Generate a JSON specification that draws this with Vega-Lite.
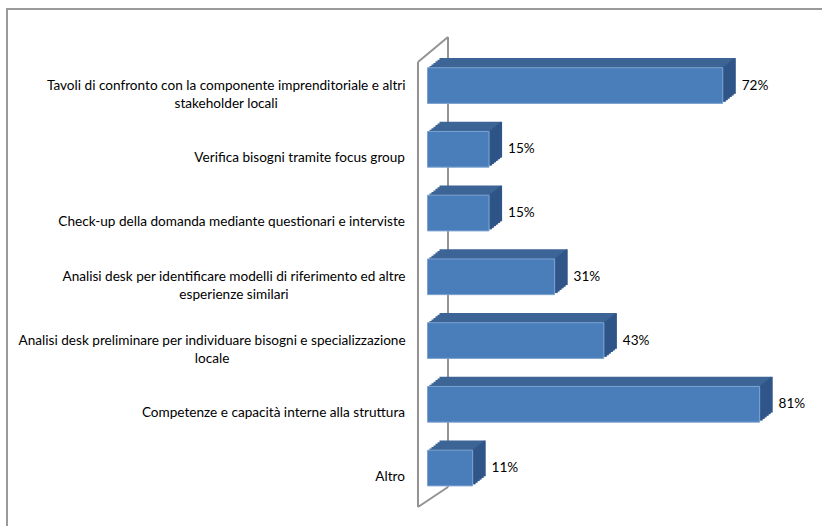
{
  "$schema": "https://vega.github.io/schema/vega-lite/v6.json",
  "width": 830,
  "height": 530,
  "autosize": "none",
  "padding": {"left": 7, "top": 9, "right": 0, "bottom": 0},
  "background": "white",
  "config": {
    "view": {"stroke": "#9a9a9a", "strokeWidth": 2},
    "font": "Lato"
  },
  "data": {
    "values": [
      {"label": "Tavoli di confronto con la componente imprenditoriale e altri\nstakeholder locali", "v": 0.72},
      {"label": "Verifica bisogni tramite focus group", "v": 0.15},
      {"label": "Check-up della domanda mediante questionari e interviste", "v": 0.15},
      {"label": "Analisi desk per identificare modelli di riferimento ed altre\nesperienze similari", "v": 0.31},
      {"label": "Analisi desk preliminare per individuare bisogni e specializzazione\nlocale", "v": 0.43},
      {"label": "Competenze e capacità interne alla struttura", "v": 0.81},
      {"label": "Altro", "v": 0.11}
    ]
  },
  "encoding": {
    "y": {
      "field": "label",
      "type": "nominal",
      "title": null,
      "scale": {
        "domain": [
          "Tavoli di confronto con la componente imprenditoriale e altri\nstakeholder locali",
          "Verifica bisogni tramite focus group",
          "Check-up della domanda mediante questionari e interviste",
          "Analisi desk per identificare modelli di riferimento ed altre\nesperienze similari",
          "Analisi desk preliminare per individuare bisogni e specializzazione\nlocale",
          "Competenze e capacità interne alla struttura",
          "Altro"
        ],
        "paddingInner": 0.44,
        "paddingOuter": 0.877,
        "align": 0.525
      },
      "axis": {
        "offset": -397.5,
        "domain": false,
        "ticks": false,
        "grid": false,
        "labelPadding": {"condition": [
          {"test": "indexof(datum.value, 'Tavoli') == 0", "value": 178.8},
          {"test": "indexof(datum.value, 'Analisi desk per') == 0", "value": 171},
          {"test": "indexof(datum.value, 'Analisi desk prel') == 0", "value": 192.9}
        ], "value": 0},
        "labelOffset": {"condition": {"test": "indexof(datum.value, '\\n') >= 0", "value": 0}, "value": 9},
        "labelAlign": {"condition": {"test": "indexof(datum.value, '\\n') >= 0", "value": "center"}, "value": "right"},
        "labelLimit": 0,
        "labelFont": "Lato",
        "labelFontSize": 13.6,
        "labelColor": "#000000",
        "labelLineHeight": 18,
        "labelBaseline": "middle",
        "labelExpr": "split(datum.value, '\\n')"
      }
    },
    "x": {
      "field": "v",
      "type": "quantitative",
      "scale": {"domain": [-1.0256, 0.9988], "nice": false, "zero": false},
      "axis": null
    }
  },
  "layer": [
    {"transform": [{"filter": "datum.v == 0.72"}],
     "mark": {"type": "rule", "color": "#939393", "strokeWidth": 2, "yOffset": -48.5, "y2Offset": 19},
     "encoding": {"x": {"datum": 0.05, "axis": null}, "y2": {"datum": "Altro"}}},
    {"transform": [{"filter": "datum.v == 0.72"}],
     "mark": {"type": "rule", "color": "#939393", "strokeWidth": 2, "yOffset": -23.5, "y2Offset": 39},
     "encoding": {"x": {"datum": -0.0232, "axis": null}, "y2": {"datum": "Altro"}}},
    {"transform": [{"filter": "datum.v == 0.72"}],
     "mark": {"type": "rule", "color": "#939393", "strokeWidth": 2, "yOffset": -23.5, "y2Offset": -48.5},
     "encoding": {"x": {"datum": -0.0232, "axis": null}, "x2": {"datum": 0.05}, "y2": {"field": "label"}}},
    {"transform": [{"filter": "datum.v == 0.11"}],
     "mark": {"type": "rule", "color": "#939393", "strokeWidth": 2, "yOffset": 39, "y2Offset": 19},
     "encoding": {"x": {"datum": -0.0232, "axis": null}, "x2": {"datum": 0.05}, "y2": {"field": "label"}}},
    {"mark": {"type": "bar", "color": "#3c6596", "xOffset": 12, "x2Offset": 12, "yOffset": -9.6, "y2Offset": -9.6}},
    {"mark": {"type": "bar", "color": "#3c6596", "xOffset": 10, "x2Offset": 10, "yOffset": -8, "y2Offset": -8}},
    {"mark": {"type": "bar", "color": "#3c6596", "xOffset": 8, "x2Offset": 8, "yOffset": -6.4, "y2Offset": -6.4}},
    {"mark": {"type": "bar", "color": "#3c6596", "xOffset": 6, "x2Offset": 6, "yOffset": -4.8, "y2Offset": -4.8}},
    {"mark": {"type": "bar", "color": "#3c6596", "xOffset": 4, "x2Offset": 4, "yOffset": -3.2, "y2Offset": -3.2}},
    {"mark": {"type": "bar", "color": "#3c6596", "xOffset": 2, "x2Offset": 2, "yOffset": -1.6, "y2Offset": -1.6}},
    {"mark": {"type": "tick", "color": "#2f5488", "opacity": 1, "size": 35.7, "thickness": 2.2, "xOffset": 12, "yOffset": -9.6}},
    {"mark": {"type": "tick", "color": "#2f5488", "opacity": 1, "size": 35.7, "thickness": 2.2, "xOffset": 10, "yOffset": -8}},
    {"mark": {"type": "tick", "color": "#2f5488", "opacity": 1, "size": 35.7, "thickness": 2.2, "xOffset": 8, "yOffset": -6.4}},
    {"mark": {"type": "tick", "color": "#2f5488", "opacity": 1, "size": 35.7, "thickness": 2.2, "xOffset": 6, "yOffset": -4.8}},
    {"mark": {"type": "tick", "color": "#2f5488", "opacity": 1, "size": 35.7, "thickness": 2.2, "xOffset": 4, "yOffset": -3.2}},
    {"mark": {"type": "tick", "color": "#2f5488", "opacity": 1, "size": 35.7, "thickness": 2.2, "xOffset": 2, "yOffset": -1.6}},
    {"mark": {"type": "bar", "fill": "#4a7ebb", "stroke": "#7da2d0", "strokeWidth": 1}},
    {"mark": {"type": "text", "align": "left", "baseline": "middle", "dx": 19, "font": "Lato", "fontSize": 13.6, "color": "#000000"},
     "encoding": {"text": {"field": "v", "type": "quantitative", "format": ".0%"}}}
  ]
}
